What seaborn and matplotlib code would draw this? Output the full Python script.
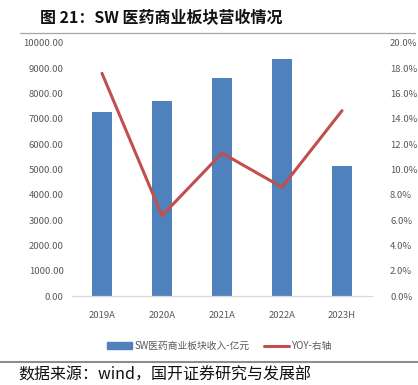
import matplotlib
matplotlib.use("Agg")
import matplotlib.pyplot as plt
import matplotlib.lines as mlines
import numpy as np
import pandas as pd
import seaborn as sns

# Données
annees = ["2019A", "2020A", "2021A", "2022A", "2023H"]
revenus = [7285, 7720, 8605, 9356, 5138]          # SW医药商业板块收入-亿元
yoy = [17.6, 6.35, 11.3, 8.6, 14.65]                # YOY (%)

sns.set_theme(style="white")
plt.rcParams["font.family"] = ["Liberation Sans Narrow", "Noto Sans CJK SC", "DejaVu Sans"]

bleu = "#4F81BD"
rouge = "#C0504D"
gris_txt = "#595959"

df = pd.DataFrame({"annee": annees, "revenu": revenus, "yoy": yoy})

fig = plt.figure(figsize=(4.18, 3.85), dpi=100)
ax = fig.add_axes([72 / 418, 1 - 296 / 385, 300 / 418, 253 / 385])

# 1. Barres
sns.barplot(ax=ax, data=df, x="annee", y="revenu", color=bleu, width=0.32,
            saturation=1, edgecolor="none")
ax.set_ylim(0, 10000)
ax.set_yticks(np.arange(0, 10001, 1000))
ax.set_yticklabels([f"{v:.2f}" for v in np.arange(0, 10001, 1000)])
ax.set_xlabel("")
ax.set_ylabel("")
ax.set_xlim(-0.5, 4.5)

# 2. Courbe YOY sur l'axe de droite
ax2 = ax.twinx()
sns.lineplot(ax=ax2, x=np.arange(len(annees)), y=df["yoy"], color=rouge, linewidth=2.2)
ax2.set_ylim(0, 20)
ax2.set_yticks(np.arange(0, 20.1, 2))
ax2.set_yticklabels([f"{v:.1f}%" for v in np.arange(0, 20.1, 2)])
ax2.set_ylabel("")
ax.set_xlim(-0.5, 4.5)

for a in [ax, ax2]:
    for s in ["top", "right", "left"]:
        a.spines[s].set_visible(False)
    a.spines["bottom"].set_visible(a is ax)
    a.tick_params(length=0, labelsize=6.8, colors=gris_txt)
ax.spines["bottom"].set_color("#D9D9D9")
ax.spines["bottom"].set_linewidth(0.9)
ax.tick_params(axis="y", pad=6)
ax.tick_params(axis="x", pad=11)
ax2.tick_params(axis="y", pad=13)

# 3. Légende
h_bar = plt.Rectangle((0, 0), 1, 1, color=bleu)
h_line = mlines.Line2D([], [], color=rouge, linewidth=2.2)
leg = fig.legend([h_bar, h_line], ["SW医药商业板块收入-亿元", "YOY-右轴"],
                 loc="center", bbox_to_anchor=(0.525, 1 - 346 / 385), ncol=2,
                 frameon=False, fontsize=7, handlelength=2.6, handleheight=0.7,
                 columnspacing=1.5, handletextpad=0.2)
for t in leg.get_texts():
    t.set_color(gris_txt)

# 4. Titre, filets et source
fig.text(40 / 418, 1 - 18 / 385, "图 21：SW 医药商业板块营收情况", fontsize=11.5,
         fontweight="bold", va="center", ha="left",
         family=["Noto Sans CJK SC", "DejaVu Sans"], color="#111111")
fig.add_artist(mlines.Line2D([20 / 418, 415 / 418], [1 - 32.5 / 385] * 2,
                             color="#A6A6A6", linewidth=0.9))
fig.add_artist(mlines.Line2D([0, 1], [1 - 362 / 385] * 2,
                             color="#8C8C8C", linewidth=1.5))
fig.text(18 / 418, 1 - 375 / 385, "数据来源：wind，国开证券研究与发展部", fontsize=11.5,
         va="center", ha="left", family=["Noto Sans CJK SC", "DejaVu Sans"],
         color="#111111")

plt.savefig("out.png", dpi=100)
